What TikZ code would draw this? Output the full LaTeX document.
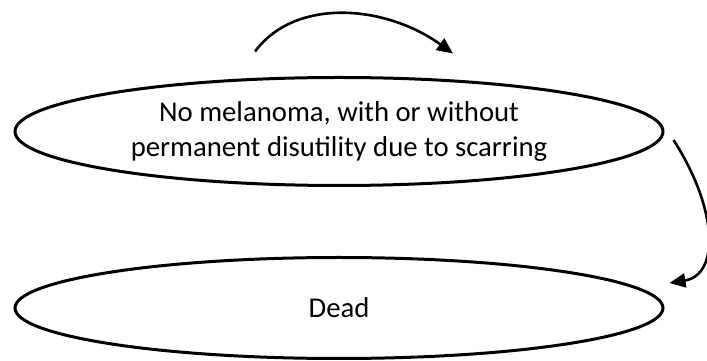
\documentclass[tikz,border=0pt]{standalone}
\usepackage{fontspec}
\setmainfont{Carlito}
\usetikzlibrary{shapes.geometric,arrows.meta}
\begin{document}
\begin{tikzpicture}[x=1pt,y=1pt,
  state/.style={draw,ellipse,line width=3pt,inner sep=0pt,align=center,
    font=\fontsize{28.7}{35}\selectfont},
  trans/.style={line width=2.6pt,-{Triangle[length=16pt,width=14pt]}}]
\useasboundingbox (0,0) rectangle (707,361);

% health states
\node[state,minimum width=648pt,minimum height=108pt] (alive) at (339,229.5)
  {No melanoma, with or without\\permanent disutility due to scarring};
\node[state,minimum width=648pt,minimum height=101pt] (dead) at (339,53) {Dead};

% ends of the transitions
\coordinate (stayS) at ([shift={(-84,24.5)}]alive.north);
\coordinate (stayE) at ([shift={(114,22.5)}]alive.north);
\coordinate (dieS)  at ([shift={(9,-8.5)}]alive.east);
\coordinate (dieE)  at ([shift={(5,25)}]dead.east);

% remain in the same state
\draw[trans] (stayS) .. controls ([shift={(40,54)}]stayS) and ([shift={(-68,49)}]stayE) .. (stayE);
% move to the absorbing state
\draw[trans] (dieS) .. controls ([shift={(45,-70)}]dieS) and ([shift={(50,8)}]dieE) .. (dieE);
\end{tikzpicture}
\end{document}
